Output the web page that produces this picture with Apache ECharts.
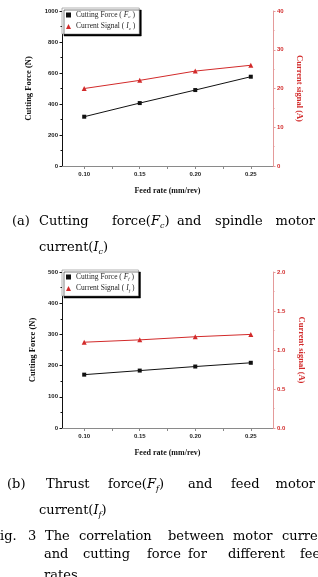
<!DOCTYPE html>
<html><head><meta charset="utf-8">
<script src="https://cdn.jsdelivr.net/npm/echarts@6/dist/echarts.min.js"></script>
<style>html,body{margin:0;padding:0;background:#fff}#c{width:318px;height:577px}</style>
</head><body><div id="c"></div>
<script>
const feedRate = [0.10, 0.15, 0.20, 0.25];
const cuttingForceFc = [318, 406, 490, 576];
const currentIc = [20.0, 22.1, 24.5, 26.0];
const thrustForceFf = [171, 184, 197, 209];
const currentIf = [1.10, 1.13, 1.17, 1.20];
const xMajorTicks = [0.10, 0.15, 0.20, 0.25];
const xAllTicks = [0.10, 0.125, 0.15, 0.175, 0.20, 0.225, 0.25];

const RED = '#d22a2a';
const SERIF = '"Liberation Serif", "DejaVu Serif", serif';
const CAP = '"DejaVu Serif", serif';

function pairs(xs, ys) { return xs.map((x, i) => [x, ys[i]]); }

const grids = [
  { left: 62, right: 45, top: 11, height: 155 },
  { left: 62, right: 45, top: 272, height: 156 }
];

function xAxes(gi) {
  return [{
    type: 'value', gridIndex: gi, position: 'bottom', min: 0.08, max: 0.27,
    name: 'Feed rate (mm/rev)', nameLocation: 'middle', nameGap: 21,
    nameTextStyle: { fontFamily: SERIF, fontWeight: 'bold', fontSize: 8, color: '#111' },
    axisLine: { lineStyle: { color: '#111', width: 1 } },
    axisTick: { show: true, customValues: xAllTicks, length: 2.5, lineStyle: { color: '#111' } },
    axisLabel: { customValues: xMajorTicks, fontSize: 6, fontWeight: 'bold', color: '#222', margin: 5,
      fontFamily: 'Liberation Sans, Arial', formatter: v => v.toFixed(2) },
    splitLine: { show: false }
  }, {
    type: 'value', gridIndex: gi, position: 'top', min: 0.08, max: 0.27,
    axisLine: { lineStyle: { color: '#8a8a8a', width: 1 } },
    axisTick: { show: true, inside: true, customValues: xAllTicks, length: 2, lineStyle: { color: '#8a8a8a' } },
    axisLabel: { show: false }, splitLine: { show: false }
  }];
}

function yAxes(gi, lmax, lint, rmax, rint, rdec, lgap) {
  return [{
    type: 'value', gridIndex: gi, position: 'left', min: 0, max: lmax, interval: lint,
    name: 'Cutting Force (N)', nameLocation: 'middle', nameGap: lgap, nameRotate: 90,
    nameTextStyle: { fontFamily: SERIF, fontWeight: 'bold', fontSize: 8.5, color: '#111' },
    axisLine: { show: true, lineStyle: { color: '#111', width: 1 } },
    axisTick: { show: true, length: 2.5, lineStyle: { color: '#111' } },
    minorTick: { show: true, splitNumber: 2, length: 1.5, lineStyle: { color: '#111' } },
    axisLabel: { fontSize: 6, fontWeight: 'bold', color: '#222', margin: 4, fontFamily: 'Liberation Sans, Arial',
      formatter: v => String(v) },
    splitLine: { show: false }
  }, {
    type: 'value', gridIndex: gi, position: 'right', min: 0, max: rmax, interval: rint,
    name: 'Current signal (A)', nameLocation: 'middle', nameGap: 19, nameRotate: -90,
    nameTextStyle: { fontFamily: SERIF, fontWeight: 'bold', fontSize: 8.5, color: RED },
    axisLine: { show: true, lineStyle: { color: '#e49a9a', width: 1 } },
    axisTick: { show: true, length: 2.5, lineStyle: { color: '#e49a9a' } },
    minorTick: { show: true, splitNumber: 2, length: 1.5, lineStyle: { color: '#e49a9a' } },
    axisLabel: { fontSize: 6, fontWeight: 'bold', color: RED, margin: 4, fontFamily: 'Liberation Sans, Arial',
      formatter: v => v.toFixed(rdec) },
    splitLine: { show: false }
  }];
}

const legendRich = {
  n: { fontFamily: SERIF, fontSize: 7.5, color: '#222' },
  i: { fontFamily: SERIF, fontSize: 7.5, fontStyle: 'italic', color: '#222' },
  s: { fontFamily: SERIF, fontSize: 5, fontStyle: 'italic', color: '#222', padding: [4, 0, 0, 0] }
};
const legendLabels = {
  Fc: '{n|Cutting Force ( }{i|F}{s|c}{n| )}',
  Ic: '{n|Current Signal ( }{i|I}{s|c}{n| )}',
  Ff: '{n|Cutting Force ( }{i|F}{s|f}{n| )}',
  If: '{n|Current Signal ( }{i|I}{s|f}{n| )}'
};
function legend(top, names) {
  return {
    orient: 'vertical', left: 62, top: top, itemWidth: 5, itemHeight: 5, itemGap: 3,
    padding: [3, 4, 3, 4], backgroundColor: '#fff', borderColor: '#666', borderWidth: 0.5,
    shadowColor: '#000', shadowOffsetX: 2, shadowOffsetY: 2, shadowBlur: 0,
    data: [{ name: names[0], icon: 'rect' }, { name: names[1], icon: 'triangle' }],
    formatter: n => legendLabels[n],
    textStyle: { rich: legendRich }
  };
}

function lineSeries(name, xi, yi, data, color, symbol, size) {
  return {
    name: name, type: 'line', xAxisIndex: xi, yAxisIndex: yi, data: data,
    symbol: symbol, symbolSize: size, itemStyle: { color: color },
    lineStyle: { color: color, width: 1 }, animation: false
  };
}

// Captions
const capRich = {
  n: { fontFamily: CAP, fontSize: 13, color: '#222' },
  i: { fontFamily: CAP, fontSize: 13, fontStyle: 'italic', color: '#222' },
  s: { fontFamily: CAP, fontSize: 8, fontStyle: 'italic', color: '#222', padding: [7, 0, 0, 0] }
};
const captionWords = [
  [222, [[12, '(a)'], [39, 'Cutting'], [112, '{n|force(}{i|F}{s|c}{n|)}'], [177, 'and'], [215, 'spindle'], [-315, 'motor']]],
  [248, [[39, '{n|current(}{i|I}{s|c}{n|)}']]],
  [485, [[7, '(b)'], [46, 'Thrust'], [108, '{n|force(}{i|F}{s|f}{n|)}'], [188, 'and'], [231, 'feed'], [-315, 'motor']]],
  [511, [[39, '{n|current(}{i|I}{s|f}{n|)}']]],
  [537, [[-9, 'Fig.'], [28, '3'], [45, 'The'], [79, 'correlation'], [168, 'between'], [233, 'motor'], [282, 'current']]],
  [555, [[44, 'and'], [83, 'cutting'], [147, 'force'], [188, 'for'], [228, 'different'], [300, 'feed']]],
  [576, [[44, 'rates']]]
];
const graphics = [];
captionWords.forEach(([y, words]) => {
  words.forEach(([x, w]) => {
    const right = x < -100;
    graphics.push({
      type: 'text', x: right ? -x : x, y: y, silent: true,
      style: {
        text: w.indexOf('{') === 0 ? w : '{n|' + w + '}', rich: capRich,
        textAlign: right ? 'right' : 'left', textVerticalAlign: 'middle'
      }
    });
  });
});

const chart = echarts.init(document.getElementById('c'), null, { renderer: 'canvas' });
chart.setOption({
  animation: false,
  grid: grids,
  xAxis: [...xAxes(0), ...xAxes(1)],
  yAxis: [...yAxes(0, 1000, 200, 40, 10, 0, 28), ...yAxes(1, 500, 100, 2, 0.5, 1, 24)],
  legend: [legend(8, ['Fc', 'Ic']), legend(270, ['Ff', 'If'])],
  series: [
    lineSeries('Fc', 0, 0, pairs(feedRate, cuttingForceFc), '#111', 'rect', 4),
    lineSeries('Ic', 0, 1, pairs(feedRate, currentIc), RED, 'triangle', 5),
    lineSeries('Ff', 2, 2, pairs(feedRate, thrustForceFf), '#111', 'rect', 4),
    lineSeries('If', 2, 3, pairs(feedRate, currentIf), RED, 'triangle', 5)
  ],
  graphic: graphics
});
</script></body></html>
